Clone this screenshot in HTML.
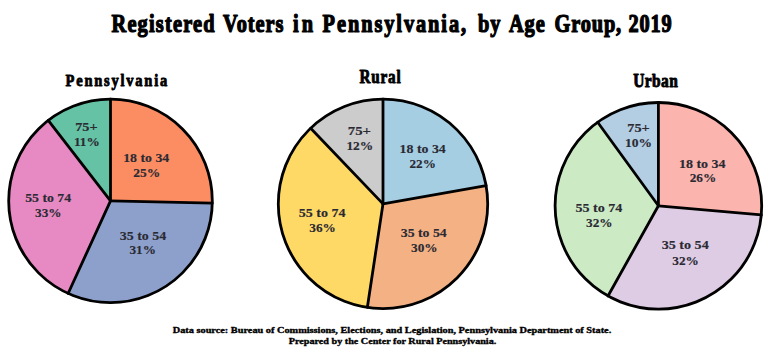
<!DOCTYPE html>
<html><head><meta charset="utf-8"><style>
html,body{margin:0;padding:0;background:#fff;width:774px;height:362px;overflow:hidden}
svg{display:block}
</style></head><body>
<svg width="774" height="362" viewBox="0 0 774 362">
<rect width="774" height="362" fill="#fff"/>
<path d="M110.50,200.90 L110.50,99.10 A101.8,101.8 0 0 1 212.27,203.21 Z" fill="#FC8D62"/>
<path d="M110.50,200.90 L212.27,203.21 A101.8,101.8 0 0 1 68.12,293.46 Z" fill="#8DA0CB"/>
<path d="M110.50,200.90 L68.12,293.46 A101.8,101.8 0 0 1 48.25,120.35 Z" fill="#E78AC3"/>
<path d="M110.50,200.90 L48.25,120.35 A101.8,101.8 0 0 1 110.50,99.10 Z" fill="#66C2A5"/>
<line x1="110.50" y1="200.90" x2="110.50" y2="99.10" stroke="#000" stroke-width="2.8" stroke-linecap="round"/>
<line x1="110.50" y1="200.90" x2="212.27" y2="203.21" stroke="#000" stroke-width="2.8" stroke-linecap="round"/>
<line x1="110.50" y1="200.90" x2="68.12" y2="293.46" stroke="#000" stroke-width="2.8" stroke-linecap="round"/>
<line x1="110.50" y1="200.90" x2="48.25" y2="120.35" stroke="#000" stroke-width="2.8" stroke-linecap="round"/>
<circle cx="110.5" cy="200.9" r="101.8" fill="none" stroke="#000" stroke-width="2.8"/>
<path d="M383.00,203.90 L383.00,99.20 A104.7,104.7 0 0 1 486.11,185.72 Z" fill="#A6CEE3"/>
<path d="M383.00,203.90 L486.11,185.72 A104.7,104.7 0 0 1 367.34,307.42 Z" fill="#F4B183"/>
<path d="M383.00,203.90 L367.34,307.42 A104.7,104.7 0 0 1 310.66,128.21 Z" fill="#FFD966"/>
<path d="M383.00,203.90 L310.66,128.21 A104.7,104.7 0 0 1 383.00,99.20 Z" fill="#CCCCCC"/>
<line x1="383.00" y1="203.90" x2="383.00" y2="99.20" stroke="#000" stroke-width="2.8" stroke-linecap="round"/>
<line x1="383.00" y1="203.90" x2="486.11" y2="185.72" stroke="#000" stroke-width="2.8" stroke-linecap="round"/>
<line x1="383.00" y1="203.90" x2="367.34" y2="307.42" stroke="#000" stroke-width="2.8" stroke-linecap="round"/>
<line x1="383.00" y1="203.90" x2="310.66" y2="128.21" stroke="#000" stroke-width="2.8" stroke-linecap="round"/>
<circle cx="383.0" cy="203.9" r="104.7" fill="none" stroke="#000" stroke-width="2.8"/>
<path d="M658.40,205.80 L658.40,102.50 A103.3,103.3 0 0 1 761.31,214.80 Z" fill="#FBB4AE"/>
<path d="M658.40,205.80 L761.31,214.80 A103.3,103.3 0 0 1 608.00,295.97 Z" fill="#DECBE4"/>
<path d="M658.40,205.80 L608.00,295.97 A103.3,103.3 0 0 1 597.68,122.23 Z" fill="#CCEBC5"/>
<path d="M658.40,205.80 L597.68,122.23 A103.3,103.3 0 0 1 658.40,102.50 Z" fill="#B3CDE3"/>
<line x1="658.40" y1="205.80" x2="658.40" y2="102.50" stroke="#000" stroke-width="2.8" stroke-linecap="round"/>
<line x1="658.40" y1="205.80" x2="761.31" y2="214.80" stroke="#000" stroke-width="2.8" stroke-linecap="round"/>
<line x1="658.40" y1="205.80" x2="608.00" y2="295.97" stroke="#000" stroke-width="2.8" stroke-linecap="round"/>
<line x1="658.40" y1="205.80" x2="597.68" y2="122.23" stroke="#000" stroke-width="2.8" stroke-linecap="round"/>
<circle cx="658.4" cy="205.8" r="103.3" fill="none" stroke="#000" stroke-width="2.8"/>
<text transform="translate(111.50,31.58) scale(0.2034,0.2486)" style='font-family:"Liberation Serif",serif;font-weight:bold;font-size:100px;fill:#000;stroke:#000;stroke-width:5;stroke-linejoin:round;letter-spacing:5.92px'>Registered</text>
<text transform="translate(222.91,31.58) scale(0.2034,0.2486)" style='font-family:"Liberation Serif",serif;font-weight:bold;font-size:100px;fill:#000;stroke:#000;stroke-width:5;stroke-linejoin:round;letter-spacing:4.67px'>Voters</text>
<text transform="translate(292.90,31.58) scale(0.2034,0.2486)" style='font-family:"Liberation Serif",serif;font-weight:bold;font-size:100px;fill:#000;stroke:#000;stroke-width:5;stroke-linejoin:round;letter-spacing:16.26px'>in</text>
<text transform="translate(322.60,31.58) scale(0.2034,0.2486)" style='font-family:"Liberation Serif",serif;font-weight:bold;font-size:100px;fill:#000;stroke:#000;stroke-width:5;stroke-linejoin:round;letter-spacing:9.49px'>Pennsylvania,</text>
<text transform="translate(477.91,31.58) scale(0.2034,0.2486)" style='font-family:"Liberation Serif",serif;font-weight:bold;font-size:100px;fill:#000;stroke:#000;stroke-width:5;stroke-linejoin:round;letter-spacing:5.04px'>by</text>
<text transform="translate(508.91,31.58) scale(0.2034,0.2486)" style='font-family:"Liberation Serif",serif;font-weight:bold;font-size:100px;fill:#000;stroke:#000;stroke-width:5;stroke-linejoin:round;letter-spacing:4.97px'>Age</text>
<text transform="translate(554.59,31.58) scale(0.2034,0.2486)" style='font-family:"Liberation Serif",serif;font-weight:bold;font-size:100px;fill:#000;stroke:#000;stroke-width:5;stroke-linejoin:round;letter-spacing:4.18px'>Group,</text>
<text transform="translate(628.39,31.58) scale(0.2034,0.2486)" style='font-family:"Liberation Serif",serif;font-weight:bold;font-size:100px;fill:#000;stroke:#000;stroke-width:5;stroke-linejoin:round;letter-spacing:4.29px'>2019</text>
<text transform="translate(65.57,86.26) scale(0.1450,0.1771)" style='font-family:"Liberation Serif",serif;font-weight:bold;font-size:100px;fill:#000;stroke:#000;stroke-width:5;stroke-linejoin:round;letter-spacing:12.26px'>Pennsylvania</text>
<text transform="translate(359.58,82.54) scale(0.1520,0.1857)" style='font-family:"Liberation Serif",serif;font-weight:bold;font-size:100px;fill:#000;stroke:#000;stroke-width:5;stroke-linejoin:round;letter-spacing:5.18px'>Rural</text>
<text transform="translate(633.28,86.53) scale(0.1543,0.1886)" style='font-family:"Liberation Serif",serif;font-weight:bold;font-size:100px;fill:#000;stroke:#000;stroke-width:5;stroke-linejoin:round;letter-spacing:2.66px'>Urban</text>
<text transform="translate(123.18,162.12) scale(0.1382,0.1314)" style='font-family:"Liberation Serif",serif;font-weight:bold;font-size:100px;fill:#2a2a33;stroke:#2a2a33;stroke-width:1.2;stroke-linejoin:round'>18 to 34</text>
<text transform="translate(133.14,177.12) scale(0.1350,0.1314)" style='font-family:"Liberation Serif",serif;font-weight:bold;font-size:100px;fill:#2a2a33;stroke:#2a2a33;stroke-width:1.2;stroke-linejoin:round'>25%</text>
<text transform="translate(75.23,130.92) scale(0.1427,0.1254)" style='font-family:"Liberation Serif",serif;font-weight:bold;font-size:100px;fill:#2a2a33;stroke:#2a2a33;stroke-width:1.2;stroke-linejoin:round'>75+</text>
<text transform="translate(73.92,146.12) scale(0.1330,0.1254)" style='font-family:"Liberation Serif",serif;font-weight:bold;font-size:100px;fill:#2a2a33;stroke:#2a2a33;stroke-width:1.2;stroke-linejoin:round'>11%</text>
<text transform="translate(25.13,201.72) scale(0.1383,0.1329)" style='font-family:"Liberation Serif",serif;font-weight:bold;font-size:100px;fill:#2a2a33;stroke:#2a2a33;stroke-width:1.2;stroke-linejoin:round'>55 to 74</text>
<text transform="translate(35.05,216.62) scale(0.1323,0.1329)" style='font-family:"Liberation Serif",serif;font-weight:bold;font-size:100px;fill:#2a2a33;stroke:#2a2a33;stroke-width:1.2;stroke-linejoin:round'>33%</text>
<text transform="translate(119.73,239.62) scale(0.1395,0.1329)" style='font-family:"Liberation Serif",serif;font-weight:bold;font-size:100px;fill:#2a2a33;stroke:#2a2a33;stroke-width:1.2;stroke-linejoin:round'>35 to 54</text>
<text transform="translate(129.45,254.12) scale(0.1323,0.1329)" style='font-family:"Liberation Serif",serif;font-weight:bold;font-size:100px;fill:#2a2a33;stroke:#2a2a33;stroke-width:1.2;stroke-linejoin:round'>31%</text>
<text transform="translate(347.80,134.82) scale(0.1481,0.1284)" style='font-family:"Liberation Serif",serif;font-weight:bold;font-size:100px;fill:#2a2a33;stroke:#2a2a33;stroke-width:1.2;stroke-linejoin:round'>75+</text>
<text transform="translate(346.40,149.72) scale(0.1346,0.1284)" style='font-family:"Liberation Serif",serif;font-weight:bold;font-size:100px;fill:#2a2a33;stroke:#2a2a33;stroke-width:1.2;stroke-linejoin:round'>12%</text>
<text transform="translate(399.57,153.32) scale(0.1388,0.1284)" style='font-family:"Liberation Serif",serif;font-weight:bold;font-size:100px;fill:#2a2a33;stroke:#2a2a33;stroke-width:1.2;stroke-linejoin:round'>18 to 34</text>
<text transform="translate(409.45,167.82) scale(0.1323,0.1284)" style='font-family:"Liberation Serif",serif;font-weight:bold;font-size:100px;fill:#2a2a33;stroke:#2a2a33;stroke-width:1.2;stroke-linejoin:round'>22%</text>
<text transform="translate(298.82,217.32) scale(0.1402,0.1314)" style='font-family:"Liberation Serif",serif;font-weight:bold;font-size:100px;fill:#2a2a33;stroke:#2a2a33;stroke-width:1.2;stroke-linejoin:round'>55 to 74</text>
<text transform="translate(309.35,232.22) scale(0.1328,0.1314)" style='font-family:"Liberation Serif",serif;font-weight:bold;font-size:100px;fill:#2a2a33;stroke:#2a2a33;stroke-width:1.2;stroke-linejoin:round'>36%</text>
<text transform="translate(400.73,237.32) scale(0.1383,0.1314)" style='font-family:"Liberation Serif",serif;font-weight:bold;font-size:100px;fill:#2a2a33;stroke:#2a2a33;stroke-width:1.2;stroke-linejoin:round'>35 to 54</text>
<text transform="translate(411.05,252.22) scale(0.1328,0.1314)" style='font-family:"Liberation Serif",serif;font-weight:bold;font-size:100px;fill:#2a2a33;stroke:#2a2a33;stroke-width:1.2;stroke-linejoin:round'>30%</text>
<text transform="translate(627.23,132.02) scale(0.1433,0.1269)" style='font-family:"Liberation Serif",serif;font-weight:bold;font-size:100px;fill:#2a2a33;stroke:#2a2a33;stroke-width:1.2;stroke-linejoin:round'>75+</text>
<text transform="translate(625.10,146.92) scale(0.1352,0.1269)" style='font-family:"Liberation Serif",serif;font-weight:bold;font-size:100px;fill:#2a2a33;stroke:#2a2a33;stroke-width:1.2;stroke-linejoin:round'>10%</text>
<text transform="translate(678.97,167.52) scale(0.1397,0.1314)" style='font-family:"Liberation Serif",serif;font-weight:bold;font-size:100px;fill:#2a2a33;stroke:#2a2a33;stroke-width:1.2;stroke-linejoin:round'>18 to 34</text>
<text transform="translate(689.65,182.22) scale(0.1328,0.1314)" style='font-family:"Liberation Serif",serif;font-weight:bold;font-size:100px;fill:#2a2a33;stroke:#2a2a33;stroke-width:1.2;stroke-linejoin:round'>26%</text>
<text transform="translate(575.42,211.72) scale(0.1411,0.1329)" style='font-family:"Liberation Serif",serif;font-weight:bold;font-size:100px;fill:#2a2a33;stroke:#2a2a33;stroke-width:1.2;stroke-linejoin:round'>55 to 74</text>
<text transform="translate(586.05,226.62) scale(0.1328,0.1329)" style='font-family:"Liberation Serif",serif;font-weight:bold;font-size:100px;fill:#2a2a33;stroke:#2a2a33;stroke-width:1.2;stroke-linejoin:round'>32%</text>
<text transform="translate(661.72,249.22) scale(0.1411,0.1329)" style='font-family:"Liberation Serif",serif;font-weight:bold;font-size:100px;fill:#2a2a33;stroke:#2a2a33;stroke-width:1.2;stroke-linejoin:round'>35 to 54</text>
<text transform="translate(672.35,264.52) scale(0.1328,0.1329)" style='font-family:"Liberation Serif",serif;font-weight:bold;font-size:100px;fill:#2a2a33;stroke:#2a2a33;stroke-width:1.2;stroke-linejoin:round'>32%</text>
<text transform="translate(172.75,332.82) scale(0.1031,0.0899)" style='font-family:"Liberation Serif",serif;font-weight:bold;font-size:100px;fill:#000;stroke:#000;stroke-width:4;stroke-linejoin:round'>Data source: Bureau of Commissions, Elections, and Legislation, Pennsylvania Department of State.</text>
<text transform="translate(288.80,343.83) scale(0.1016,0.0841)" style='font-family:"Liberation Serif",serif;font-weight:bold;font-size:100px;fill:#000;stroke:#000;stroke-width:4;stroke-linejoin:round'>Prepared by the Center for Rural Pennsylvania.</text>
</svg>
</body></html>
